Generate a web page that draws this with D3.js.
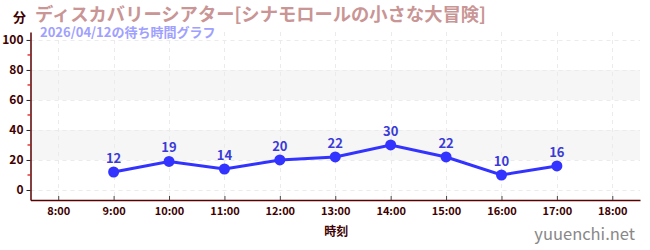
<!DOCTYPE html>
<html>
<head>
<meta charset="utf-8">
<script src="https://cdn.jsdelivr.net/npm/d3@7"></script>
<style>
  body { margin: 0; background: #fff; }
  text { font-family: "Noto Sans CJK JP", "Noto Sans", sans-serif; }
</style>
</head>
<body>
<div id="chart"></div>
<script>
// データ
const hours = [9, 10, 11, 12, 13, 14, 15, 16, 17];
const waits = [12, 19, 14, 20, 22, 30, 22, 10, 16];
const xTicks = [8, 9, 10, 11, 12, 13, 14, 15, 16, 17, 18];
const yTicks = [0, 20, 40, 60, 80, 100];
const yMinor = [10, 30, 50, 70, 90];
const bands = [[20, 40], [60, 80]];

const W = 650, H = 250;
const svg = d3.select("#chart").append("svg")
    .attr("width", W)
    .attr("height", H);

const x = d3.scaleLinear().domain([7.5, 18.5]).range([30.5, 640]);
const y = d3.scaleLinear().domain([-6.67, 105.3]).range([200, 32]);

const axisColor = "#5a0000";

// 背景の帯
svg.selectAll("rect.band")
    .data(bands)
    .enter()
    .append("rect")
    .attr("class", "band")
    .attr("x", x.range()[0])
    .attr("width", x.range()[1] - x.range()[0])
    .attr("y", d => y(d[1]))
    .attr("height", d => y(d[0]) - y(d[1]))
    .attr("fill", "#f6f6f6");

// グリッド
svg.selectAll("line.hgrid")
    .data(yTicks)
    .enter()
    .append("line")
    .attr("x1", x.range()[0]).attr("x2", x.range()[1])
    .attr("y1", d => Math.round(y(d)) + 0.5).attr("y2", d => Math.round(y(d)) + 0.5)
    .attr("stroke", "#ebebeb")
    .attr("stroke-dasharray", "4,4");

svg.selectAll("line.vgrid")
    .data(xTicks)
    .enter()
    .append("line")
    .attr("x1", d => Math.round(x(d)) + 0.5).attr("x2", d => Math.round(x(d)) + 0.5)
    .attr("y1", y.range()[1]).attr("y2", y.range()[0])
    .attr("stroke", "#ebebeb")
    .attr("stroke-dasharray", "4,4");

// y軸
const yAxis = svg.append("g")
    .attr("transform", `translate(${x.range()[0]},0)`)
    .call(d3.axisLeft(y).tickValues(yTicks).tickSize(4).tickSizeOuter(0).tickPadding(3));
yAxis.select(".domain").attr("stroke", axisColor).attr("stroke-width", 1.5);
yAxis.selectAll(".tick line").attr("stroke", "#222");
yAxis.selectAll(".tick text")
    .attr("fill", "#400000")
    .style("font-size", "12px")
    .style("font-weight", "bold");

// 補助目盛 (赤)
svg.selectAll("line.minor")
    .data(yMinor)
    .enter()
    .append("line")
    .attr("x1", x.range()[0] - 3).attr("x2", x.range()[0])
    .attr("y1", d => y(d)).attr("y2", d => y(d))
    .attr("stroke", "#e00000")
    .attr("stroke-width", 1.2);

// x軸
const xAxis = svg.append("g")
    .attr("transform", `translate(0,${y.range()[0]})`)
    .call(d3.axisBottom(x).tickValues(xTicks).tickFormat(d => d + ":00")
        .tickSize(-4).tickSizeOuter(0).tickPadding(7));
xAxis.select(".domain").attr("stroke", axisColor).attr("stroke-width", 1.5);
xAxis.selectAll(".tick line").attr("stroke", "#444");
xAxis.selectAll(".tick text")
    .attr("fill", "#400000")
    .style("font-size", "11px")
    .style("font-weight", "bold");

// 折れ線
const pts = hours.map((h, i) => ({ h: h, v: waits[i] }));
const line = d3.line().x(d => x(d.h)).y(d => y(d.v));

svg.append("path")
    .datum(pts)
    .attr("fill", "none")
    .attr("stroke", "#3333ff")
    .attr("stroke-width", 3)
    .attr("d", line);

svg.selectAll("circle.pt")
    .data(pts)
    .enter()
    .append("circle")
    .attr("cx", d => x(d.h))
    .attr("cy", d => y(d.v))
    .attr("r", 5.5)
    .attr("fill", "#3333ff");

svg.selectAll("text.lbl")
    .data(pts)
    .enter()
    .append("text")
    .attr("x", d => x(d.h))
    .attr("y", d => y(d.v) - 9)
    .attr("text-anchor", "middle")
    .style("font-size", "13px")
    .style("font-weight", "bold")
    .attr("fill", "#3a3ad8")
    .text(d => d.v);

// タイトル
svg.append("text")
    .attr("x", 13).attr("y", 22)
    .style("font-size", "13px")
    .style("font-weight", "bold")
    .attr("fill", "#400000")
    .text("分");

svg.append("text")
    .attr("x", 35).attr("y", 21)
    .style("font-size", "18.3px")
    .style("font-weight", "bold")
    .attr("fill", "#c99595")
    .text("ディスカバリーシアター[シナモロールの小さな大冒険]");

svg.append("text")
    .attr("x", 40).attr("y", 37)
    .style("font-size", "13px")
    .style("font-weight", "bold")
    .attr("fill", "#a0a0ff")
    .text("2026/04/12の待ち時間グラフ");

// 軸ラベル
svg.append("text")
    .attr("x", (x.range()[0] + x.range()[1]) / 2 + 1).attr("y", 236)
    .attr("text-anchor", "middle")
    .style("font-size", "12px")
    .style("font-weight", "bold")
    .attr("fill", "#400000")
    .text("時刻");

svg.append("text")
    .attr("x", 635).attr("y", 240)
    .attr("text-anchor", "end")
    .style("font-size", "16.5px")
    .attr("fill", "#888")
    .text("yuuenchi.net");
</script>
</body>
</html>
